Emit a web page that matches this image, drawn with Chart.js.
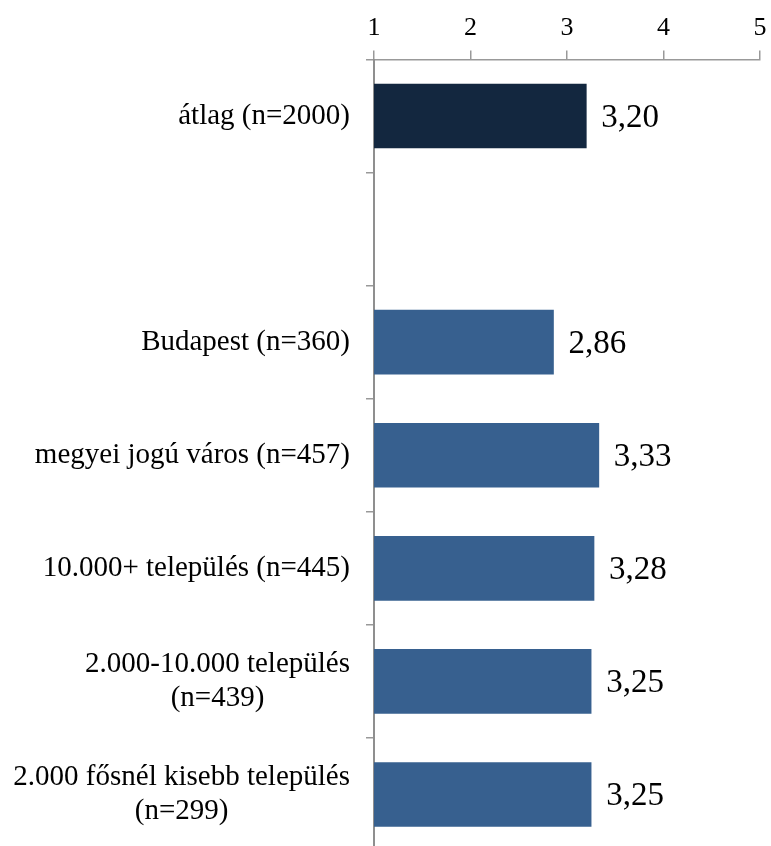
<!DOCTYPE html>
<html>
<head>
<meta charset="utf-8">
<script src="https://cdn.jsdelivr.net/npm/chart.js@4/dist/chart.umd.min.js"></script>
<style>
  html, body { margin: 0; padding: 0; background: #fff; overflow: hidden; }
  canvas { display: block; }
</style>
</head>
<body>
<canvas id="grafikon" width="771" height="851"></canvas>
<script>
// adatok
var kategoriak = [
  'átlag (n=2000)',
  '',
  'Budapest (n=360)',
  'megyei jogú város (n=457)',
  '10.000+ település (n=445)',
  ['2.000-10.000 település', '(n=439)'],
  ['2.000 fősnél kisebb település', '(n=299)']
];
var ertekek = [3.20, null, 2.86, 3.33, 3.28, 3.25, 3.25];
var szinek = ['#13273f', '#37608f', '#37608f', '#37608f', '#37608f', '#37608f', '#37608f'];
var skalaMin = 1;
var skalaMax = 5;

// értékek kiírása a sávok mellé
var ertekCimkek = {
  id: 'ertekCimkek',
  afterDatasetsDraw: function (chart) {
    var ctx = chart.ctx;
    var meta = chart.getDatasetMeta(0);
    ctx.save();
    ctx.font = '33px "Liberation Serif"';
    ctx.fillStyle = '#000';
    ctx.textAlign = 'left';
    ctx.textBaseline = 'middle';
    meta.data.forEach(function (bar, i) {
      var v = ertekek[i];
      if (v === null) return;
      ctx.fillText(v.toFixed(2).replace('.', ','), bar.x + 15, bar.y + 2);
    });
    ctx.restore();
  }
};

// kategórianevek: jobbra zárt blokk, a sorok középre igazítva (mint az Excelben)
var kategoriaCimkek = {
  id: 'kategoriaCimkek',
  afterDraw: function (chart) {
    var ctx = chart.ctx;
    var y = chart.scales.y;
    var jobbSzel = y.right - 24;
    var sorMagassag = 34;
    ctx.save();
    ctx.font = '29px "Liberation Serif"';
    ctx.fillStyle = '#000';
    ctx.textAlign = 'center';
    ctx.textBaseline = 'middle';
    kategoriak.forEach(function (cimke, i) {
      var sorok = Array.isArray(cimke) ? cimke : [cimke];
      var szelesseg = Math.max.apply(null, sorok.map(function (s) { return ctx.measureText(s).width; }));
      var kozep = jobbSzel - szelesseg / 2;
      var yk = y.getPixelForValue(i);
      sorok.forEach(function (s, j) {
        ctx.fillText(s, kozep, yk + (j - (sorok.length - 1) / 2) * sorMagassag);
      });
    });
    ctx.restore();
  }
};

// a tengelyek ne foglaljanak plusz helyet a címkéknek
function nullaPadding(scale) {
  scale.paddingTop = 0;
  scale.paddingBottom = 0;
  scale.paddingLeft = 0;
  scale.paddingRight = 0;
}

var ctx = document.getElementById('grafikon').getContext('2d');
var grafikon = new Chart(ctx, {
  type: 'bar',
  data: {
    labels: kategoriak,
    datasets: [{
      data: ertekek,
      backgroundColor: szinek,
      barThickness: 64,
      borderWidth: 0
    }]
  },
  options: {
    indexAxis: 'y',
    responsive: false,
    animation: false,
    layout: { padding: { right: 11, top: 0, bottom: 0, left: 0 } },
    plugins: {
      legend: { display: false },
      tooltip: { enabled: false }
    },
    scales: {
      x: {
        position: 'top',
        min: skalaMin,
        max: skalaMax,
        afterFit: function (scale) { scale.height = 59.5; nullaPadding(scale); },
        ticks: {
          stepSize: 1,
          padding: 7,
          color: '#000',
          font: { family: 'Liberation Serif', size: 26 }
        },
        grid: {
          drawOnChartArea: false,
          tickLength: 9,
          color: '#999',
          lineWidth: 1.5
        },
        border: { color: '#999', width: 1.5 }
      },
      y: {
        afterFit: function (scale) { scale.width = 374; nullaPadding(scale); },
        ticks: {
          display: false
        },
        grid: {
          drawOnChartArea: false,
          offset: true,
          tickLength: 8,
          color: '#999',
          lineWidth: 1.5
        },
        border: { color: '#8f8f8f', width: 2 }
      }
    }
  },
  plugins: [ertekCimkek, kategoriaCimkek]
});
</script>
</body>
</html>
